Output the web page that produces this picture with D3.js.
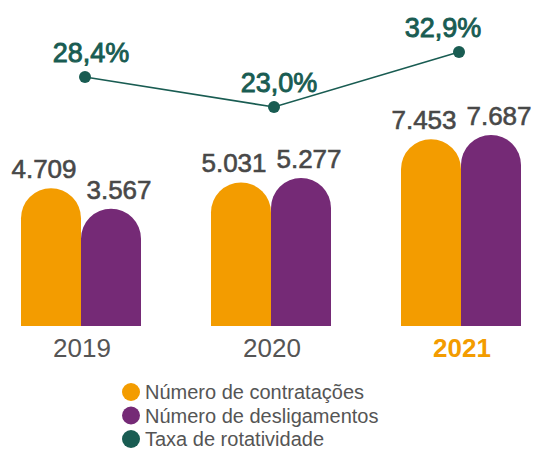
<!DOCTYPE html>
<html><head><meta charset="utf-8">
<script src="https://cdn.jsdelivr.net/npm/d3@7"></script>
<style>body{margin:0;background:#fff}svg{display:block}</style>
</head><body><svg id="c" width="535" height="450"></svg>
<script>
const years = ["2019","2020","2021"];
const contratacoes = [4709, 5031, 7453];
const desligamentos = [3567, 5277, 7687];
const rotatividade = [28.4, 23.0, 32.9];
const seriesNames = ["Número de contratações","Número de desligamentos","Taxa de rotatividade"];
const colors = ["#F39C00","#752A76","#195C52"];

const svg = d3.select("#c");
const font = "'Liberation Sans', Arial, Helvetica, sans-serif";
const xg = d3.scalePoint().domain(years).range([81, 461]);
const barW = 60;
const y = d3.scaleLinear().domain([-3000, 7687]).range([326, 135]);
const yr = d3.scaleLinear().domain([23, 32.9]).range([107, 52]);

function barPath(xl, top, bottom){
  const r = barW/2;
  return `M${xl},${bottom}V${top + r}A${r},${r} 0 0 1 ${xl+barW},${top + r}V${bottom}Z`;
}
const fmt = v => d3.format(",")(v).replace(/,/g, ".");

const bars = [];
years.forEach((yy,i)=>{
  bars.push({yy, v: contratacoes[i], s:0, xl: xg(yy)-barW, dx:-7});
  bars.push({yy, v: desligamentos[i], s:1, xl: xg(yy), dx:8});
});
svg.selectAll("path.bar").data(bars).join("path")
  .attr("class","bar")
  .attr("d", d => barPath(d.xl, y(d.v), y.range()[0]))
  .attr("fill", d => colors[d.s]);
svg.selectAll("text.val").data(bars).join("text")
  .attr("class","val")
  .attr("x", d => d.xl + barW/2 + d.dx)
  .attr("y", d => y(d.v) - 10)
  .attr("text-anchor","middle")
  .attr("font-family", font).attr("font-size", 26)
  .attr("fill","#484848").attr("stroke","#484848").attr("stroke-width",0.6)
  .text(d => fmt(d.v));

// line
const dotX = (i) => xg(years[i]) + [4,3,-2][i];
const line = d3.line().x((d,i)=>dotX(i)).y(d=>yr(d));
svg.append("path").datum(rotatividade).attr("d", line)
  .attr("fill","none").attr("stroke", colors[2]).attr("stroke-width",1.6);
svg.selectAll("circle.dot").data(rotatividade).join("circle")
  .attr("class","dot")
  .attr("cx",(d,i)=>dotX(i)).attr("cy", d=>yr(d)).attr("r",6)
  .attr("fill", colors[2]);
svg.selectAll("text.pct").data(rotatividade).join("text")
  .attr("class","pct")
  .attr("x",(d,i)=>dotX(i) + [6,5,-16][i])
  .attr("y", d=>yr(d) - 15)
  .attr("text-anchor","middle")
  .attr("font-family", font).attr("font-size", 27)
  .attr("fill", colors[2]).attr("stroke", colors[2]).attr("stroke-width",0.9)
  .text(d => d3.format(".1f")(d).replace(".", ",") + "%");

// x axis labels
svg.selectAll("text.yr").data(years).join("text")
  .attr("class","yr")
  .attr("x", d => xg(d) + 1).attr("y", 357)
  .attr("text-anchor","middle")
  .attr("font-family", font).attr("font-size", 26)
  .attr("font-weight", (d,i)=> i===years.length-1 ? "bold" : "normal")
  .attr("fill", (d,i)=> i===years.length-1 ? colors[0] : "#555")
  .text(d=>d);

// legend
const lg = svg.append("g");
seriesNames.forEach((n,i)=>{
  const cy = 392 + i*23.5;
  lg.append("circle").attr("cx",131).attr("cy",cy).attr("r",9).attr("fill",colors[i]);
  lg.append("text").attr("x",145).attr("y",cy+7)
    .attr("font-family", font).attr("font-size",20).attr("fill","#555").text(n);
});
</script></body></html>
